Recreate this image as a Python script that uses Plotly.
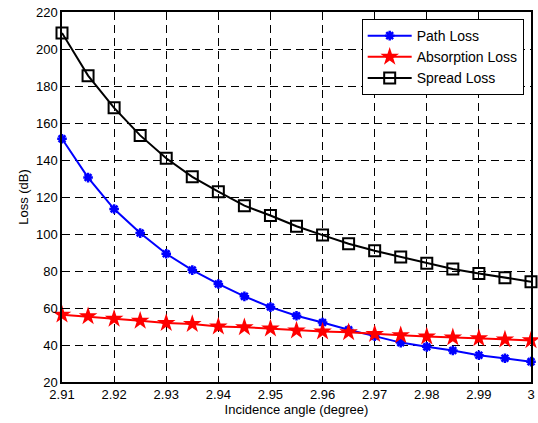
import plotly.graph_objects as go

angles = [2.91, 2.915, 2.92, 2.925, 2.93, 2.935, 2.94, 2.945, 2.95, 2.955,
          2.96, 2.965, 2.97, 2.975, 2.98, 2.985, 2.99, 2.995, 3.0]
path_loss = [151.5, 130.5, 113.5, 100.5, 89.3, 80.5, 73.0, 66.3, 60.5, 55.8,
             52.2, 48.2, 44.8, 41.3, 39.0, 37.0, 34.5, 32.8, 31.0]
absorption_loss = [56.4, 55.5, 54.2, 53.1, 51.9, 51.3, 50.0, 49.6, 48.9, 47.8,
                   47.3, 46.9, 45.9, 45.3, 44.6, 44.1, 43.6, 43.0, 42.5]
spread_loss = [208.7, 185.6, 168.2, 153.3, 140.9, 130.9, 122.9, 115.3, 110.0, 104.2,
               99.4, 94.7, 90.9, 87.6, 84.2, 81.1, 78.7, 76.4, 74.2]

x_ticks = [2.91, 2.92, 2.93, 2.94, 2.95, 2.96, 2.97, 2.98, 2.99, 3.0]
x_tick_labels = ["2.91", "2.92", "2.93", "2.94", "2.95", "2.96", "2.97", "2.98", "2.99", "3"]
y_ticks = [20, 40, 60, 80, 100, 120, 140, 160, 180, 200, 220]

FONT = "Liberation Sans, Arial, sans-serif"

fig = go.Figure()
fig.add_trace(go.Scatter(
    x=angles, y=path_loss, name="Path Loss", mode="lines+markers",
    line=dict(color="#0000ff", width=2), cliponaxis=False,
    marker=dict(symbol="asterisk", size=8, color="#0000ff",
                line=dict(color="#0000ff", width=2.5)),
))
fig.add_trace(go.Scatter(
    x=angles, y=absorption_loss, name="Absorption Loss", mode="lines+markers",
    line=dict(color="#ff0000", width=2), cliponaxis=False,
    marker=dict(symbol="star", size=14, color="#ff0000",
                line=dict(color="#ff0000", width=0)),
))
fig.add_trace(go.Scatter(
    x=angles, y=spread_loss, name="Spread Loss", mode="lines+markers",
    line=dict(color="#000000", width=2), cliponaxis=False,
    marker=dict(symbol="square-open", size=11, color="#000000",
                line=dict(color="#000000", width=2)),
))

axis_common = dict(
    showline=True, linecolor="black", linewidth=1.5, mirror=True,
    ticks="inside", ticklen=5, tickcolor="black",
    showgrid=True, gridcolor="black", gridwidth=1, griddash="8px,5px",
    zeroline=False, tickfont=dict(family=FONT, size=13, color="black"),
    automargin=False,
)

fig.update_layout(
    width=538, height=423,
    margin=dict(l=62, r=7, t=12, b=41),
    paper_bgcolor="white", plot_bgcolor="white",
    font=dict(family=FONT, size=13, color="black"),
    xaxis=dict(range=[2.91, 3.0000001], tickvals=x_ticks, ticktext=x_tick_labels,
               title=dict(text="Incidence angle (degree)", standoff=0,
                          font=dict(family=FONT, size=13)),
               **axis_common),
    yaxis=dict(range=[20, 220], tickvals=y_ticks,
               title=dict(text="Loss (dB)", standoff=4,
                          font=dict(family=FONT, size=13)),
               **axis_common),
    legend=dict(x=0.639, y=0.981, xanchor="left", yanchor="top",
                bgcolor="white", bordercolor="black", borderwidth=1,
                font=dict(family=FONT, size=14), tracegroupgap=0,
                itemwidth=44),
    showlegend=True,
)

fig.write_html(
    "out.html",
    config={"displayModeBar": False},
    post_script="document.body.style.margin='0';document.body.style.overflow='hidden';",
)
